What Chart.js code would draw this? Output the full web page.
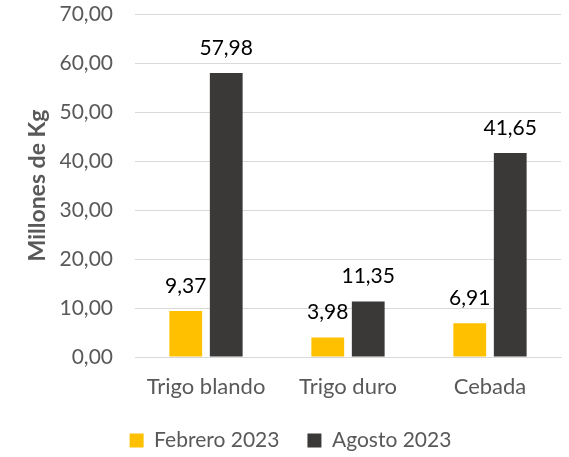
<!DOCTYPE html>
<html>
<head>
<meta charset="utf-8">
<script src="https://cdn.jsdelivr.net/npm/chart.js@4.4.1/dist/chart.umd.min.js"></script>
<style>
  html, body { margin: 0; padding: 0; background: #fff; }
  #wrap { width: 569px; height: 457px; position: relative; }
</style>
</head>
<body>
<div id="wrap"><canvas id="chart"></canvas></div>
<script>
// Data
const categories = ['Trigo blando', 'Trigo duro', 'Cebada'];
const febrero = [9.37, 3.98, 6.91];
const agosto = [57.98, 11.35, 41.65];
const seriesNames = ['Febrero 2023', 'Agosto 2023'];
const yMax = 70;
const yStep = 10;

const FONT = 'Lato, "Open Sans", sans-serif';
const SIZE = 21;
const fmt = v => v.toFixed(2).replace('.', ',');

// Value labels above each bar
const valueLabels = {
  id: 'valueLabels',
  afterDatasetsDraw(chart) {
    const ctx = chart.ctx;
    ctx.save();
    ctx.font = SIZE + 'px ' + FONT;
    ctx.fillStyle = '#000';
    ctx.textAlign = 'center';
    ctx.textBaseline = 'alphabetic';
    chart.data.datasets.forEach((ds, i) => {
      chart.getDatasetMeta(i).data.forEach((bar, j) => {
        ctx.fillText(fmt(ds.data[j]), bar.x, bar.y - 18);
      });
    });
    ctx.restore();
  }
};

new Chart(document.getElementById('chart'), {
  type: 'bar',
  data: {
    labels: categories,
    datasets: [
      { label: seriesNames[0], data: febrero, backgroundColor: '#FFC000' },
      { label: seriesNames[1], data: agosto, backgroundColor: '#3B3838' }
    ]
  },
  options: {
    responsive: true,
    maintainAspectRatio: false,
    animation: false,
    datasets: { bar: { categoryPercentage: 0.57, barPercentage: 0.81 } },
    layout: { padding: { top: 14, right: 8, bottom: -4, left: 20 } },
    plugins: {
      tooltip: { enabled: false },
      legend: {
        position: 'bottom',
        labels: {
          color: '#595959',
          font: { family: FONT, size: SIZE },
          boxWidth: 14, boxHeight: 14, padding: 28
        }
      }
    },
    scales: {
      x: {
        grid: { display: false, drawTicks: false },
        border: { display: true, color: '#D9D9D9', width: 1 },
        ticks: { color: '#595959', font: { family: FONT, size: 22 }, padding: 17 },
        afterFit: s => { s.height = 45; }
      },
      y: {
        min: 0, max: yMax,
        grid: { color: '#D9D9D9', drawTicks: false },
        border: { display: false },
        ticks: {
          stepSize: yStep, color: '#595959', padding: 22,
          font: { family: FONT, size: SIZE },
          callback: v => fmt(v)
        },
        title: {
          display: true, text: 'Millones de Kg', color: '#595959',
          font: { family: FONT, size: 23, weight: 'bold' }
        },
        afterFit: s => { s.width = 115; s.paddingTop = 0; s.paddingBottom = 0; }
      }
    }
  },
  plugins: [valueLabels]
});
</script>
</body>
</html>
